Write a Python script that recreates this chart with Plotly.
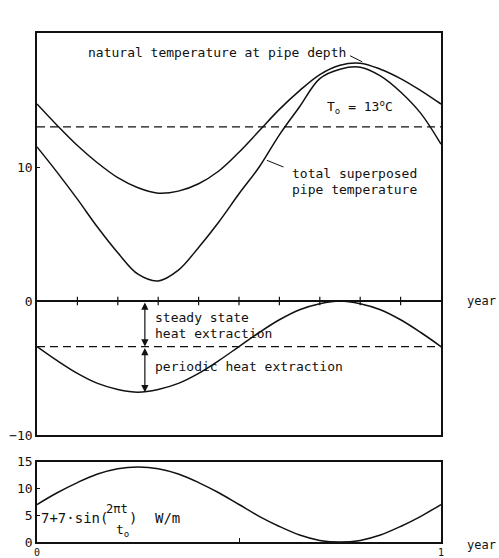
import plotly.graph_objects as go

# ---------------- data ----------------
t_year = [0.00, 0.05, 0.10, 0.15, 0.20, 0.25, 0.30, 0.35, 0.40, 0.45, 0.50,
          0.55, 0.60, 0.65, 0.70, 0.75, 0.80, 0.85, 0.90, 0.95, 1.00]

natural_temp = [14.7, 13.1, 11.6, 10.3, 9.2, 8.45, 8.05, 8.2, 8.75, 9.7, 11.1,
                12.7, 14.3, 15.7, 16.9, 17.6, 17.75, 17.3, 16.6, 15.7, 14.7]

total_temp = [11.5, 9.6, 7.6, 5.5, 3.6, 2.0, 1.5, 2.3, 4.0, 5.9, 8.0,
              10.0, 12.4, 14.5, 16.6, 17.3, 17.45, 16.8, 15.6, 14.0, 11.7]

extraction_temp = [-3.4, -4.45, -5.4, -6.15, -6.6, -6.8, -6.6, -6.15, -5.4, -4.45, -3.4,
                   -2.35, -1.4, -0.65, -0.2, 0.0, -0.2, -0.65, -1.4, -2.35, -3.4]

q_load = [7.0, 9.2, 11.1, 12.7, 13.7, 14.0, 13.7, 12.7, 11.1, 9.2, 7.0,
          4.8, 2.9, 1.3, 0.3, 0.0, 0.3, 1.3, 2.9, 4.8, 7.0]

T_O = 13.0
STEADY = -3.4
tick_years = [0.1, 0.2, 0.3, 0.4, 0.5, 0.6, 0.7, 0.8, 0.9]
T_ticks = [-10, 0, 10]
q_ticks = [0, 5, 10, 15]

# ---------------- figure ----------------
FONT = "DejaVu Sans Mono"
BLACK = "#111111"
fig = go.Figure()

spline = dict(color=BLACK, width=1.5, shape="spline", smoothing=1.0)
fig.add_trace(go.Scatter(x=t_year, y=natural_temp, mode="lines", line=spline,
                         xaxis="x", yaxis="y", hoverinfo="skip"))
fig.add_trace(go.Scatter(x=t_year, y=total_temp, mode="lines", line=spline,
                         xaxis="x", yaxis="y", hoverinfo="skip"))
fig.add_trace(go.Scatter(x=t_year, y=extraction_temp, mode="lines", line=spline,
                         xaxis="x", yaxis="y", hoverinfo="skip"))
fig.add_trace(go.Scatter(x=[t_year[0], t_year[-1]], y=[T_O, T_O], mode="lines",
                         line=dict(color=BLACK, width=1.2, dash="8px,5px"), xaxis="x", yaxis="y", hoverinfo="skip"))
fig.add_trace(go.Scatter(x=[t_year[0], t_year[-1]], y=[STEADY, STEADY], mode="lines",
                         line=dict(color=BLACK, width=1.2, dash="8px,5px"), xaxis="x", yaxis="y", hoverinfo="skip"))
fig.add_trace(go.Scatter(x=tick_years, y=[0] * len(tick_years), mode="markers",
                         marker=dict(symbol="line-ns", size=6, line=dict(color=BLACK, width=1.2)),
                         xaxis="x", yaxis="y", hoverinfo="skip"))
fig.add_trace(go.Scatter(x=t_year, y=q_load, mode="lines", line=spline,
                         xaxis="x2", yaxis="y2", hoverinfo="skip"))

axis_common = dict(showline=True, mirror=True, linecolor=BLACK, linewidth=1.5, showgrid=False,
                   automargin=False,
                   tickfont=dict(family=FONT, size=13, color=BLACK), tickcolor=BLACK)

fig.update_layout(
    width=499, height=558,
    margin=dict(l=37, r=58, t=33, b=16, autoexpand=False),
    paper_bgcolor="white", plot_bgcolor="white",
    showlegend=False,
    xaxis=dict(**axis_common, domain=[0, 1], range=[0, 1], anchor="y", showticklabels=False, ticks="",
               zeroline=False),
    yaxis=dict(**axis_common, domain=[0.2102, 1], range=[-10, 20], anchor="x", tickvals=T_ticks,
               ticks="inside", ticklen=3, zeroline=True, zerolinecolor=BLACK, zerolinewidth=1.5),
    xaxis2=dict(**axis_common, domain=[0, 1], range=[0, 1], anchor="y2", tickvals=[0, 1],
                ticks="inside", ticklen=4, zeroline=False,
                minor=dict(tickvals=[0.5], ticks="inside", ticklen=4, tickcolor=BLACK)),
    yaxis2=dict(**axis_common, domain=[0, 0.1578], range=[0, 15], anchor="x2", tickvals=q_ticks,
                ticks="inside", ticklen=3, zeroline=False),
)
fig.update_xaxes(tickfont=dict(size=10), ticklabelstandoff=0, selector=dict(anchor="y2"))

ann = []
def text(x, y, s, xref="x", yref="y", xanchor="left", size=13):
    ann.append(dict(x=x, y=y, xref=xref, yref=yref, text=s, showarrow=False, xanchor=xanchor,
                    yanchor="middle", font=dict(family=FONT, size=size, color=BLACK)))

text(0.0, 21.0, "T<sub>R</sub>(<sup>o</sup>C)")
text(0.121, 18.55, "natural temperature at pipe depth")
text(0.713, 14.5, "T<sub>o</sub> = 13<sup>o</sup>C")
text(0.626, 9.5, "total superposed")
text(0.626, 8.35, "pipe temperature")
text(0.288, -1.2, "steady state")
text(0.288, -2.4, "heat extraction")
text(0.288, -4.9, "periodic heat extraction")
text(1.06, 0, "year", xref="paper", yref="y", size=12)
text(0.02, 16.6, "q(t)(W/m)", xref="x2", yref="y2")
text(0.005, 4.4, "7+7·sin(", xref="x2", yref="y2", size=14)
text(0.198, 6.2, "2πt", xref="x2", yref="y2", xanchor="center", size=12)
text(0.212, 2.1, "t<sub>o</sub>", xref="x2", yref="y2", xanchor="center", size=13)
text(0.238, 4.4, ")", xref="x2", yref="y2", xanchor="center", size=14)
text(0.287, 4.4, "W/m", xref="x2", yref="y2", size=14)
text(1.06, -0.006, "year", xref="paper", yref="paper", size=12)

# double-headed arrows
for y0, y1 in [(0, STEADY), (STEADY, -6.8)]:
    ann.append(dict(x=0.267, y=y1, ax=0.267, ay=y0, xref="x", yref="y", axref="x", ayref="y",
                    text="", showarrow=True, arrowhead=2, arrowside="end+start", arrowsize=1.2,
                    arrowwidth=1.2, arrowcolor=BLACK, standoff=0, startstandoff=0))
fig.update_layout(annotations=ann)

# leader lines
fig.add_shape(type="line", xref="x", yref="y", x0=0.775, y0=18.3, x1=0.805, y1=17.85,
              line=dict(color=BLACK, width=1))
fig.add_shape(type="line", xref="x", yref="y", x0=0.569, y0=10.5, x1=0.61, y1=10.0,
              line=dict(color=BLACK, width=1))

fig.write_html("out.html", config={"displayModeBar": False},
               post_script="document.body.style.margin='0px';document.body.style.overflow='hidden';")
